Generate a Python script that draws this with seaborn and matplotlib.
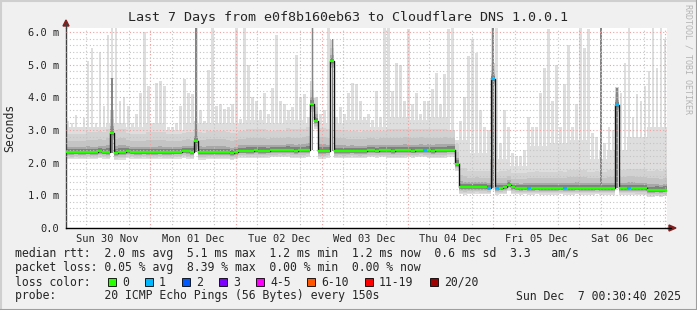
import numpy as np
import matplotlib
matplotlib.use("Agg")
import matplotlib.pyplot as plt
import seaborn as sns
import pandas as pd
from matplotlib.patches import Rectangle, Polygon
from matplotlib.lines import Line2D

# ---------------- data ----------------
title = "Last 7 Days from e0f8b160eb63 to Cloudflare DNS 1.0.0.1"
day_labels = ["Sun 30 Nov", "Mon 01 Dec", "Tue 02 Dec", "Wed 03 Dec",
              "Thu 04 Dec", "Fri 05 Dec", "Sat 06 Dec"]
ytick_values = [0, 1, 2, 3, 4, 5, 6]
ytick_labels = ["0.0", "1.0 m", "2.0 m", "3.0 m", "4.0 m", "5.0 m", "6.0 m"]

# highest ping per column (ms), 150 columns over 7 days
smoke_max = [3.27, 3.2, 3.47, 3.1, 3.37, 5.1, 5.5, 3.2, 5.4, 3.73,
             5.9, 6.2, 6.2, 3.9, 4.0, 3.73, 3.2, 3.5, 4.14, 6.0,
             4.35, 3.2, 4.45, 4.5, 4.35, 3.1, 3.1, 3.2, 3.73, 4.55,
             4.14, 4.1, 6.2, 3.6, 3.27, 4.85, 6.2, 3.73,
             3.8, 3.63, 3.7, 3.8, 6.2, 3.35, 6.2, 5.0, 4.0, 3.9, 3.6, 4.14,
             3.5, 4.3, 5.9, 3.9, 3.8, 3.6, 3.7, 5.3, 4.0, 4.1,
             3.4, 6.2, 4.0, 3.5, 3.6, 6.2, 5.7, 3.4, 3.7, 3.5,
             4.14, 4.45, 4.4, 3.9, 3.4,
             3.5, 3.3, 4.2, 3.4, 6.2, 6.2, 4.2, 5.05, 5.0, 3.9,
             6.1, 3.8, 4.14, 3.5, 3.9, 3.9, 4.24, 4.75, 3.8, 4.7,
             6.1, 6.2, 2.7, 3.27, 4.0, 5.25, 5.8, 5.35, 3.6, 3.1,
             3.0, 6.2, 6.2, 2.6, 3.6, 3.1, 2.3, 2.2,
             2.2, 2.4, 3.4, 3.1, 3.1, 4.14, 4.9, 6.1, 3.9, 5.0,
             3.1, 4.4, 5.6, 3.1, 3.8, 6.2, 5.5, 6.1, 2.9, 2.8,
             2.4, 2.6, 3.1, 3.0, 2.3, 4.14, 5.06, 6.2, 3.4, 4.1,
             3.9, 4.35, 4.8, 6.2, 4.9, 6.2, 5.8]

median_ms = [2.33, 2.32, 2.34, 2.33, 2.33, 2.34, 2.33, 2.33, 2.36, 2.34, 2.34,
             2.92,
             2.31, 2.33, 2.33, 2.36, 2.34, 2.33, 2.33, 2.34, 2.33, 2.33,
             2.33, 2.34, 2.33, 2.33, 2.33, 2.34, 2.34, 2.37, 2.35, 2.34,
             2.66,
             2.33, 2.32, 2.33, 2.33, 2.33,
             2.33, 2.33, 2.33, 2.30, 2.32, 2.37, 2.37, 2.37, 2.37, 2.38, 2.37, 2.37,
             2.37, 2.38, 2.38, 2.39, 2.38, 2.40, 2.38, 2.37, 2.38, 2.39, 2.40,
             3.80, 3.28,
             2.36, 2.36, 2.37,
             5.11,
             2.35, 2.36, 2.35, 2.36, 2.37, 2.36, 2.35, 2.36,
             2.38, 2.38, 2.37, 2.38, 2.38, 2.38, 2.37, 2.38, 2.38, 2.39, 2.38,
             2.37, 2.38, 2.39, 2.38, 2.38, 2.37, 2.38, 2.38, 2.39, 2.40, 2.40,
             1.97,
             1.25, 1.24, 1.24, 1.24, 1.25, 1.24, 1.24, 1.23,
             4.55,
             1.22, 1.23, 1.24, 1.33, 1.24, 1.23, 1.22, 1.23, 1.22, 1.22,
             1.23, 1.22, 1.22, 1.22, 1.22, 1.22, 1.23, 1.22, 1.22, 1.22,
             1.23, 1.22, 1.22, 1.22, 1.22, 1.23, 1.22, 1.22, 1.22, 1.22,
             3.76,
             1.22, 1.22, 1.22, 1.22, 1.21, 1.21, 1.21, 1.16, 1.16, 1.17, 1.15, 1.17]

# lost pings (of 20) per column
loss_cols = [89, 105, 106, 107, 115, 124, 137, 140]
loss_vals = [1, 1, 1, 1, 1, 1, 1, 1]

# per segment (5 columns each) smoke shape
plateau = [3.1, 3.1, 3.2, 3.1, 3.2, 3.0, 3.2, 3.2, 3.2, 3.3,
           3.2, 3.3, 3.2, 3.2, 3.3, 3.1, 3.4, 3.3, 3.4, 2.7,
           2.3, 2.1, 1.9, 2.5, 2.6, 2.7, 2.1, 2.4, 2.8, 3.1]
mid_spread = [0.55, 0.60, 0.70, 0.55, 0.60, 0.55, 0.60, 0.65, 0.60, 0.65,
              0.60, 0.65, 0.70, 0.65, 0.60, 0.60, 0.65, 0.65, 0.65, 0.60,
              0.50, 0.50, 0.45, 0.50, 0.50, 0.55, 0.50, 0.55, 0.60, 0.60]
inner_spread = [0.15, 0.16, 0.20, 0.15, 0.16, 0.15, 0.17, 0.18, 0.16, 0.17,
                0.16, 0.18, 0.20, 0.18, 0.16, 0.16, 0.17, 0.17, 0.18, 0.18,
                0.16, 0.15, 0.14, 0.16, 0.16, 0.17, 0.16, 0.17, 0.18, 0.18]
lower_spread = [0.22, 0.22, 0.24, 0.22, 0.22, 0.22, 0.24, 0.22, 0.22, 0.24,
                0.22, 0.24, 0.24, 0.22, 0.22, 0.22, 0.24, 0.22, 0.24, 0.22,
                0.20, 0.20, 0.20, 0.20, 0.20, 0.20, 0.20, 0.20, 0.20, 0.20]

# columns where many pings were high (dark smoke streaks)
spike_cols = [11, 32, 61, 66, 106, 133, 137]
spike_tops = [4.6, 6.2, 6.2, 5.8, 6.2, 6.2, 4.3]

loss_legend = ["0", "1", "2", "3", "4-5", "6-10", "11-19", "20/20"]
loss_colors = ["#26ff00", "#00b8ff", "#0059ff", "#7e00ff",
               "#ff00ff", "#ff5500", "#ff0000", "#a10000"]

legend_lines = [
    "median rtt:  2.0 ms avg  5.1 ms max  1.2 ms min  1.2 ms now  0.6 ms sd  3.3   am/s",
    "packet loss: 0.05 % avg  8.39 % max  0.00 % min  0.00 % now",
]
probe_text = "probe:       20 ICMP Echo Pings (56 Bytes) every 150s"
stamp_text = "Sun Dec  7 00:30:40 2025"
watermark = "RRDTOOL / TOBI OETIKER"

assert len(smoke_max) == 150 and len(median_ms) == 150

# ---------------- figure ----------------
sns.set_theme(style="white")
plt.rcParams["font.family"] = ["DejaVu Sans Mono"]

W, H = 697, 310
fig = plt.figure(figsize=(W / 100, H / 100), dpi=100, facecolor="#f0f0f0")


def fx(x):
    return x / W


def fy(y):
    return 1 - y / H


AX_L, AX_R, AX_T, AX_B = 66, 667, 28, 228
ax = fig.add_axes([fx(AX_L), fy(AX_B), (AX_R - AX_L) / W, (AX_B - AX_T) / H])
ax.set_facecolor("white")

NCOL = len(median_ms)
TOTAL_H = 168.0
CW = TOTAL_H / NCOL
xl = np.arange(NCOL) * CW
xc = xl + CW / 2
seg = np.arange(NCOL) // 5

med = np.array(median_ms)
smax = np.array(smoke_max)
plat = np.array(plateau)[seg]
mids = np.array(mid_spread)[seg]
inner = np.array(inner_spread)[seg]
lower = np.array(lower_spread)[seg]

lo = med - lower
full_top = np.maximum(np.minimum(smax, plat), med + mids)


def band(bottom, top, color, z, width=CW, x=xl, align="edge"):
    ax.bar(x, top - bottom, bottom=bottom, width=width, align=align,
           color=color, linewidth=0, zorder=z)


# light smoke (full columns)
band(lo, full_top, "#dedede", 1.0)
# light smoke (thin high spikes)
hi = smax > full_top
band(lo[hi], smax[hi], "#dedede", 1.0, width=CW * 0.7, x=xc[hi], align="center")
# graded inner smoke
band(med - lower * 0.8, med + mids, "#d2d2d2", 1.05)
band(med - lower * 0.6, med + mids * 0.6, "#c4c4c4", 1.1)
band(med - lower * 0.4, med + inner, "#a8a8a8", 1.2)
band(med - 0.03, med + inner * 0.45 + 0.02, "#808080", 1.3)
# dark streaks
sc = np.array(spike_cols)
base = np.minimum(med[sc - 1], med[sc + 1])
band(base, np.array(spike_tops), "#858585", 1.4, width=CW * 0.45, x=xc[sc], align="center")

# median line (black) via seaborn
df = pd.DataFrame({"t": xc, "median": med})
sns.lineplot(data=df, x="t", y="median", estimator=None, color="#111111",
             linewidth=1.0, drawstyle="steps-mid", ax=ax, zorder=3)
# colored median segments by loss
loss = np.zeros(NCOL, dtype=int)
loss[np.array(loss_cols)] = loss_vals
seg_colors = [loss_colors[v] for v in loss]
ax.hlines(med, xl, xl + CW, colors=seg_colors, linewidth=1.6, zorder=3.2)

# axes limits and grid
ax.set_xlim(0, TOTAL_H)
ax.set_ylim(0, (AX_B - AX_T) / 32.67)
noons = [11.5 + 24 * k for k in range(7)]
midnights = [23.5 + 24 * k for k in range(7)]
six_h = [5.5 + 6 * k for k in range(28) if (5.5 + 6 * k) not in midnights]
ax.set_xticks(noons)
ax.set_xticklabels(day_labels, fontsize=7.5)
ax.set_xticks(six_h, minor=True)
ax.set_yticks(ytick_values)
ax.set_yticklabels(ytick_labels, fontsize=7.5)
ax.set_yticks(np.arange(0, 6.2, 0.2), minor=True)
ax.set_axisbelow(False)
dots = (0, (1, 2))
ax.grid(False)
ax.grid(True, which="minor", axis="both", color="#c4c4c4", linestyle=dots, linewidth=0.8)
ax.grid(True, which="major", axis="y", color="#f0a0a0", linestyle=dots, linewidth=0.8)
for m in midnights:
    ax.axvline(m, color="#f0a0a0", linestyle=dots, linewidth=0.8, zorder=2.5)
ax.tick_params(axis="both", which="both", length=0)
ax.tick_params(axis="x", pad=4)
ax.tick_params(axis="y", pad=5)
ax.set_xlabel("")
ax.set_ylabel("")
for s in ["top", "right"]:
    ax.spines[s].set_visible(False)
ax.spines["left"].set_color("#404040")
ax.spines["bottom"].set_color("#000000")
ax.spines["left"].set_linewidth(1.0)
ax.spines["bottom"].set_linewidth(1.0)

# axis arrows
arrow_col = "#801f1f"
fig.add_artist(Line2D([fx(66), fx(66)], [fy(28), fy(24)], color="#404040", lw=1.0))
fig.add_artist(Polygon([(fx(63), fy(26)), (fx(69), fy(26)), (fx(66), fy(20))],
                       closed=True, color=arrow_col, transform=fig.transFigure))
fig.add_artist(Line2D([fx(667), fx(671)], [fy(228), fy(228)], color="#000000", lw=1.0))
fig.add_artist(Polygon([(fx(669), fy(225)), (fx(669), fy(231)), (fx(676), fy(228))],
                       closed=True, color=arrow_col, transform=fig.transFigure))

# border shading
fig.add_artist(Line2D([0, 1], [fy(0.5), fy(0.5)], color="#cfcfcf", lw=1.5))
fig.add_artist(Line2D([fx(0.5), fx(0.5)], [0, 1], color="#cfcfcf", lw=1.5))
fig.add_artist(Line2D([0, 1], [fy(309.5), fy(309.5)], color="#9e9e9e", lw=1.5))
fig.add_artist(Line2D([fx(696.5), fx(696.5)], [0, 1], color="#9e9e9e", lw=1.5))

# texts
fig.text(fx(348), fy(18), title, fontsize=9.6, ha="center", va="center")
fig.text(fx(10), fy(128), "Seconds", fontsize=8.3, rotation=90, ha="center", va="center")
fig.text(fx(688), fy(4), watermark, fontsize=6, rotation=270, ha="center", va="top",
         color="#b4b4b4")

LX = 15
fig.text(fx(LX), fy(254), legend_lines[0], fontsize=8.3, ha="left", va="center")
fig.text(fx(LX), fy(268), legend_lines[1], fontsize=8.3, ha="left", va="center")
fig.text(fx(LX), fy(282), "loss color:", fontsize=8.3, ha="left", va="center")
box_x = [108, 145, 182, 219, 256, 307, 365, 430]
for bx, lab, col in zip(box_x, loss_legend, loss_colors):
    fig.add_artist(Rectangle((fx(bx), fy(286)), 8 / W, 8 / H, facecolor=col,
                             edgecolor="#000000", linewidth=0.6, transform=fig.transFigure))
    fig.text(fx(bx + 14), fy(282), lab, fontsize=8.3, ha="left", va="center")
fig.text(fx(LX), fy(296), probe_text, fontsize=8.3, ha="left", va="center")
fig.text(fx(681), fy(296), stamp_text, fontsize=8.3, ha="right", va="center")

fig.savefig("out.png", dpi=100, facecolor=fig.get_facecolor())
